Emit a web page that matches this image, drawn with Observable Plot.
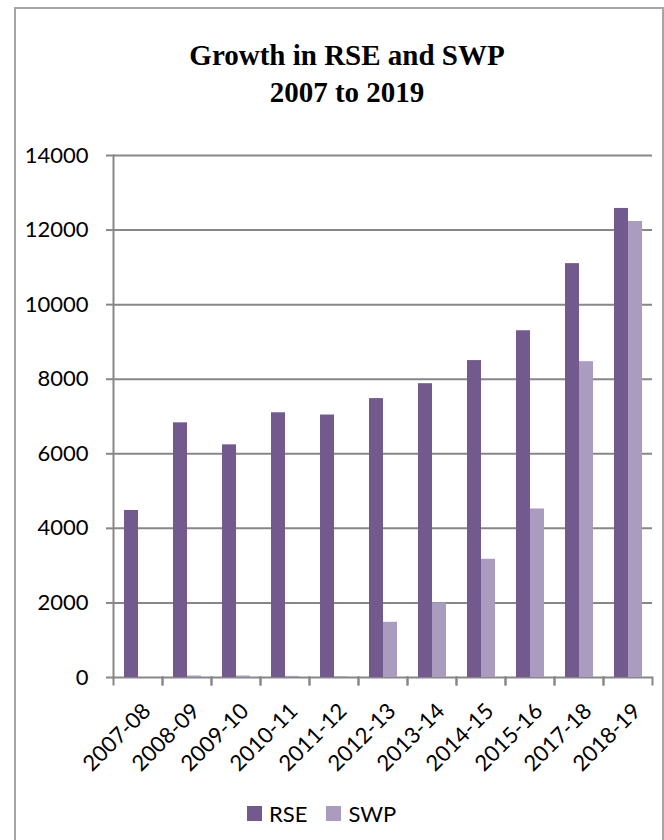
<!DOCTYPE html>
<html>
<head>
<meta charset="utf-8">
<script src="https://cdn.jsdelivr.net/npm/d3@7"></script>
<script src="https://cdn.jsdelivr.net/npm/@observablehq/plot@0.6"></script>
<style>
  html, body { margin: 0; padding: 0; background: #fff; }
  body { width: 664px; height: 840px; position: relative; overflow: hidden; font-family: Lato, sans-serif; }
  #border { position: absolute; left: 14px; top: 7px; width: 646px; height: 840px; border: 2px solid #a6a6a6; border-bottom: none; }
  #title { position: absolute; left: 32px; top: 37px; width: 630px; text-align: center;
           font-family: "Liberation Serif", serif; font-weight: bold; font-size: 29px; line-height: 37px; color: #000; }
  #chart { position: absolute; left: 0; top: 130px; }
  #legend { position: absolute; top: 800px; left: 247px; display: flex; align-items: center; font-size: 22px; color: #000; }
  .sw { width: 15px; height: 15px; display: inline-block; }
  .item { display: flex; align-items: center; }
</style>
</head>
<body>
<div id="border"></div>
<div id="title">Growth in RSE and SWP<br>2007 to 2019</div>
<div id="chart"></div>
<div id="legend"></div>
<script>
const years = ["2007-08","2008-09","2009-10","2010-11","2011-12","2012-13","2013-14","2014-15","2015-16","2017-18","2018-19"];
const series = ["RSE", "SWP"];
const rse = [4480, 6830, 6240, 7100, 7040, 7480, 7880, 8500, 9300, 11100, 12580];
const swp = [0, 40, 40, 30, 20, 1480, 2000, 3170, 4520, 8470, 12230];
const yTicks = [0, 2000, 4000, 6000, 8000, 10000, 12000, 14000];
const colors = ["#725a8f", "#aa9cbf"];

const data = [];
years.forEach((y, i) => {
  data.push({year: y, series: "RSE", value: rse[i]});
  data.push({year: y, series: "SWP", value: swp[i]});
});

const grid = "#878787";

const chart = Plot.plot({
  width: 664,
  height: 650,
  marginTop: 25,
  marginBottom: 103,
  marginLeft: 111,
  marginRight: 11,
  style: {background: "transparent", fontFamily: "Lato, sans-serif", fontSize: "22px", color: "#000"},
  fx: {domain: years, padding: 0, label: null},
  x: {domain: series, paddingInner: 0, paddingOuter: 0.72, axis: null},
  y: {domain: [0, 14000], label: null},
  color: {domain: series, range: colors},
  marks: [
    Plot.gridY(yTicks, {stroke: grid, strokeOpacity: 1, strokeWidth: 2}),
    Plot.frame({anchor: "left", stroke: grid, strokeWidth: 2, insetTop: 522, insetBottom: -7}),
    Plot.frame({anchor: "right", stroke: grid, strokeWidth: 2, insetTop: 522, insetBottom: -7}),
    Plot.frame({anchor: "left", stroke: grid, strokeWidth: 2, fx: () => years[0]}),
    Plot.barY(data, {fx: "year", x: "series", y: "value", fill: "series"}),
    Plot.axisY(yTicks, {tickSize: 7, tickPadding: 18, stroke: grid, strokeWidth: 2, fontSize: 22, fill: "#000", label: null, tickFormat: d => String(d)}),
    Plot.axisFx({anchor: "bottom", tickRotate: -45, tickSize: 0, tickPadding: 30, dx: 9, fontSize: 22, fill: "#000", label: null})
  ]
});
document.getElementById("chart").appendChild(chart);

const legend = document.getElementById("legend");
series.forEach((s, i) => {
  const item = document.createElement("div");
  item.className = "item";
  item.style.marginRight = i === 0 ? "19px" : "0";
  const sw = document.createElement("span");
  sw.className = "sw";
  sw.style.background = colors[i];
  const t = document.createElement("span");
  t.textContent = s;
  t.style.marginLeft = "7px";
  item.appendChild(sw);
  item.appendChild(t);
  legend.appendChild(item);
});
</script>
</body>
</html>
